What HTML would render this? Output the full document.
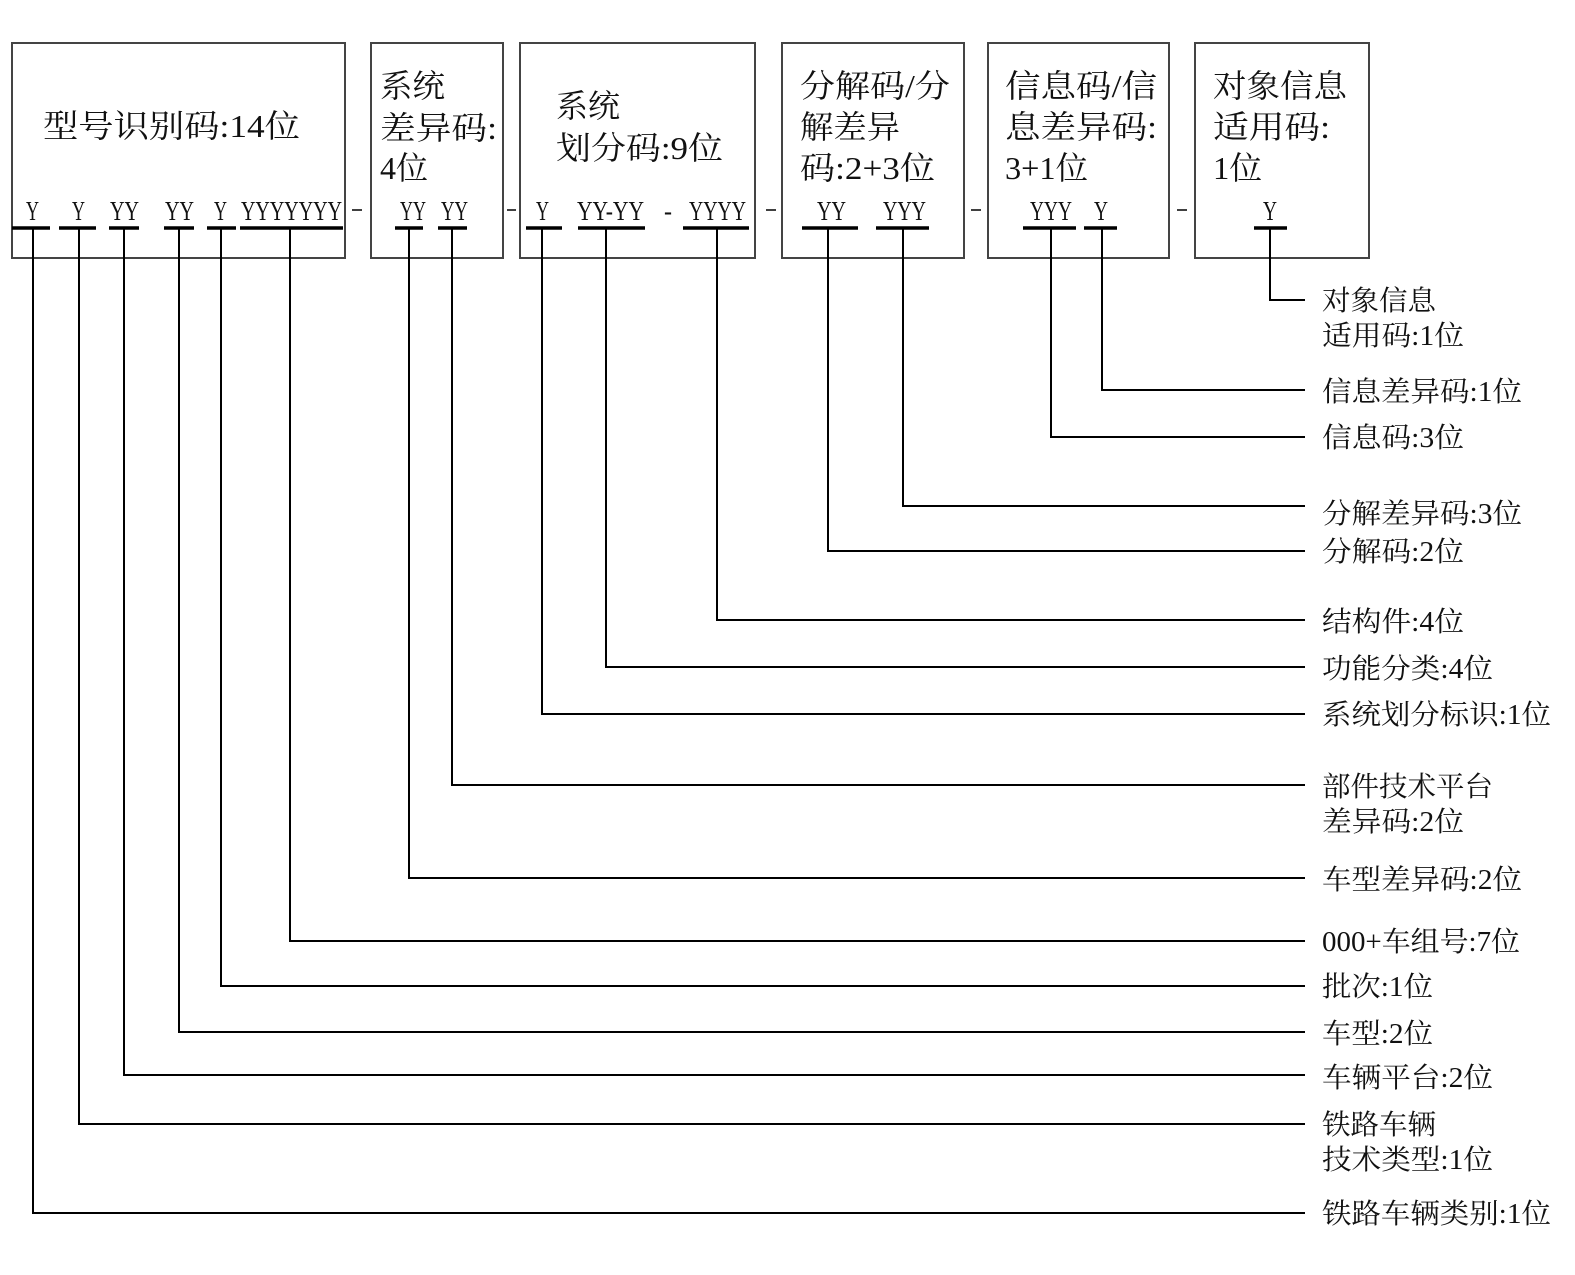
<!DOCTYPE html>
<html><head><meta charset="utf-8"><style>
html,body{margin:0;padding:0;background:#fff;}
svg{display:block;}
text{font-family:"Liberation Serif","Noto Serif CJK SC",serif;fill:#111;}
</style></head><body>
<svg width="1575" height="1275" viewBox="0 0 1575 1275" xmlns="http://www.w3.org/2000/svg">
<g fill="none" stroke="#444" stroke-width="2">
<rect x="12" y="43" width="333" height="215"/>
<rect x="371" y="43" width="132" height="215"/>
<rect x="520" y="43" width="235" height="215"/>
<rect x="782" y="43" width="182" height="215"/>
<rect x="988" y="43" width="181" height="215"/>
<rect x="1195" y="43" width="174" height="215"/>
</g>
<!-- underlines -->
<g stroke="#000" stroke-width="3.5">
<line x1="12" y1="228" x2="50" y2="228"/>
<line x1="59" y1="228" x2="96" y2="228"/>
<line x1="109" y1="228" x2="139" y2="228"/>
<line x1="164" y1="228" x2="194" y2="228"/>
<line x1="207" y1="228" x2="236" y2="228"/>
<line x1="240" y1="228" x2="343" y2="228"/>
<line x1="395" y1="228" x2="423" y2="228"/>
<line x1="438" y1="228" x2="467" y2="228"/>
<line x1="526" y1="228" x2="562" y2="228"/>
<line x1="578" y1="228" x2="645" y2="228"/>
<line x1="683" y1="228" x2="749" y2="228"/>
<line x1="802" y1="228" x2="858" y2="228"/>
<line x1="876" y1="228" x2="929" y2="228"/>
<line x1="1023" y1="228" x2="1076" y2="228"/>
<line x1="1084" y1="228" x2="1117" y2="228"/>
<line x1="1254" y1="228" x2="1287" y2="228"/>
</g>
<!-- connectors -->
<g fill="none" stroke="#000" stroke-width="2">
<polyline points="1270,228 1270,300 1305,300"/>
<polyline points="1102,228 1102,390 1305,390"/>
<polyline points="1051,228 1051,437 1305,437"/>
<polyline points="903,228 903,506 1305,506"/>
<polyline points="828,228 828,551 1305,551"/>
<polyline points="717,228 717,620 1305,620"/>
<polyline points="606,228 606,667 1305,667"/>
<polyline points="542,228 542,714 1305,714"/>
<polyline points="452,228 452,785 1305,785"/>
<polyline points="409,228 409,878 1305,878"/>
<polyline points="290,228 290,941 1305,941"/>
<polyline points="221,228 221,986 1305,986"/>
<polyline points="179,228 179,1032 1305,1032"/>
<polyline points="124,228 124,1075 1305,1075"/>
<polyline points="79,228 79,1124 1305,1124"/>
<polyline points="33,228 33,1213 1305,1213"/>
</g>
<!-- dashes between boxes -->
<g stroke="#000" stroke-width="1.5">
<line x1="352" y1="210" x2="362" y2="210"/>
<line x1="507" y1="210" x2="516" y2="210"/>
<line x1="766" y1="210" x2="776" y2="210"/>
<line x1="971" y1="210" x2="981" y2="210"/>
<line x1="1177" y1="210" x2="1187" y2="210"/>
</g>
<!-- box titles -->
<g font-size="32" lengthAdjust="spacingAndGlyphs">
<text x="43" y="137" textLength="257" lengthAdjust="spacingAndGlyphs">型号识别码:14位</text>
<text x="380" y="97" textLength="65" lengthAdjust="spacingAndGlyphs">系统</text>
<text x="380" y="139" textLength="117" lengthAdjust="spacingAndGlyphs">差异码:</text>
<text x="380" y="179" textLength="48" lengthAdjust="spacingAndGlyphs">4位</text>
<text x="556" y="117" textLength="64" lengthAdjust="spacingAndGlyphs">系统</text>
<text x="556" y="159" textLength="167" lengthAdjust="spacingAndGlyphs">划分码:9位</text>
<text x="800" y="97" textLength="150" lengthAdjust="spacingAndGlyphs">分解码/分</text>
<text x="800" y="138" textLength="100" lengthAdjust="spacingAndGlyphs">解差异</text>
<text x="800" y="179" textLength="135" lengthAdjust="spacingAndGlyphs">码:2+3位</text>
<text x="1005" y="97" textLength="152" lengthAdjust="spacingAndGlyphs">信息码/信</text>
<text x="1005" y="138" textLength="152" lengthAdjust="spacingAndGlyphs">息差异码:</text>
<text x="1005" y="179" textLength="83" lengthAdjust="spacingAndGlyphs">3+1位</text>
<text x="1213" y="97" textLength="134" lengthAdjust="spacingAndGlyphs">对象信息</text>
<text x="1213" y="138" textLength="117" lengthAdjust="spacingAndGlyphs">适用码:</text>
<text x="1213" y="179" textLength="49" lengthAdjust="spacingAndGlyphs">1位</text>
</g>
<!-- Y codes -->
<g font-size="27">
<text x="26" y="220" textLength="13" lengthAdjust="spacingAndGlyphs">Y</text>
<text x="72" y="220" textLength="13" lengthAdjust="spacingAndGlyphs">Y</text>
<text x="110" y="220" textLength="29" lengthAdjust="spacingAndGlyphs">YY</text>
<text x="165" y="220" textLength="29" lengthAdjust="spacingAndGlyphs">YY</text>
<text x="214" y="220" textLength="13" lengthAdjust="spacingAndGlyphs">Y</text>
<text x="241" y="220" textLength="101" lengthAdjust="spacingAndGlyphs">YYYYYYY</text>
<text x="400" y="220" textLength="26" lengthAdjust="spacingAndGlyphs">YY</text>
<text x="441" y="220" textLength="27" lengthAdjust="spacingAndGlyphs">YY</text>
<text x="536" y="220" textLength="13" lengthAdjust="spacingAndGlyphs">Y</text>
<text x="577" y="220" textLength="67" lengthAdjust="spacingAndGlyphs">YY-YY</text>
<text x="664" y="220" textLength="8" lengthAdjust="spacingAndGlyphs">-</text>
<text x="689" y="220" textLength="57" lengthAdjust="spacingAndGlyphs">YYYY</text>
<text x="817" y="220" textLength="29" lengthAdjust="spacingAndGlyphs">YY</text>
<text x="883" y="220" textLength="43" lengthAdjust="spacingAndGlyphs">YYY</text>
<text x="1030" y="220" textLength="42" lengthAdjust="spacingAndGlyphs">YYY</text>
<text x="1094" y="220" textLength="14" lengthAdjust="spacingAndGlyphs">Y</text>
<text x="1263" y="220" textLength="14" lengthAdjust="spacingAndGlyphs">Y</text>
</g>
<!-- right labels -->
<g font-size="28">
<text x="1322" y="310" textLength="114" lengthAdjust="spacingAndGlyphs">对象信息</text>
<text x="1322" y="345" textLength="142" lengthAdjust="spacingAndGlyphs">适用码:1位</text>
<text x="1322" y="401" textLength="200" lengthAdjust="spacingAndGlyphs">信息差异码:1位</text>
<text x="1322" y="447" textLength="142" lengthAdjust="spacingAndGlyphs">信息码:3位</text>
<text x="1322" y="523" textLength="200" lengthAdjust="spacingAndGlyphs">分解差异码:3位</text>
<text x="1322" y="561" textLength="142" lengthAdjust="spacingAndGlyphs">分解码:2位</text>
<text x="1322" y="631" textLength="142" lengthAdjust="spacingAndGlyphs">结构件:4位</text>
<text x="1322" y="678" textLength="171" lengthAdjust="spacingAndGlyphs">功能分类:4位</text>
<text x="1322" y="724" textLength="229" lengthAdjust="spacingAndGlyphs">系统划分标识:1位</text>
<text x="1322" y="796" textLength="171" lengthAdjust="spacingAndGlyphs">部件技术平台</text>
<text x="1322" y="831" textLength="142" lengthAdjust="spacingAndGlyphs">差异码:2位</text>
<text x="1322" y="889" textLength="200" lengthAdjust="spacingAndGlyphs">车型差异码:2位</text>
<text x="1322" y="951" textLength="198" lengthAdjust="spacingAndGlyphs">000+车组号:7位</text>
<text x="1322" y="996" textLength="111" lengthAdjust="spacingAndGlyphs">批次:1位</text>
<text x="1322" y="1043" textLength="111" lengthAdjust="spacingAndGlyphs">车型:2位</text>
<text x="1322" y="1087" textLength="171" lengthAdjust="spacingAndGlyphs">车辆平台:2位</text>
<text x="1322" y="1134" textLength="114" lengthAdjust="spacingAndGlyphs">铁路车辆</text>
<text x="1322" y="1169" textLength="171" lengthAdjust="spacingAndGlyphs">技术类型:1位</text>
<text x="1322" y="1223" textLength="229" lengthAdjust="spacingAndGlyphs">铁路车辆类别:1位</text>
</g>
</svg>
</body></html>
